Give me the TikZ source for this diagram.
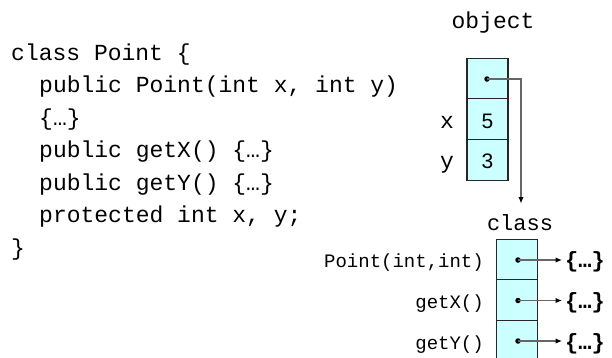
\documentclass[tikz,border=0pt]{standalone}
\usepackage{fontspec}
\setmonofont{Liberation Mono}
\newfontfamily\digitfont{Liberation Sans}
\usetikzlibrary{arrows.meta}
\definecolor{cellfill}{HTML}{CCFFFF}
\definecolor{linegray}{HTML}{666666}
\tikzset{
  codeline/.style={anchor=base west, inner sep=0pt, font=\fontsize{23}{23}\selectfont\ttfamily},
  biglabel/.style={anchor=base, inner sep=0pt, font=\fontsize{23}{23}\selectfont\ttfamily},
  smalllabel/.style={anchor=base east, inner sep=0pt, font=\fontsize{19}{19}\selectfont\ttfamily},
  bodylabel/.style={anchor=base west, inner sep=0pt, font=\fontsize{22}{22}\selectfont\ttfamily\bfseries},
  digit/.style={anchor=base, inner sep=0pt, font=\fontsize{21}{21}\selectfont\digitfont},
  cell/.style={draw=black!85, line width=1.1pt, fill=cellfill, minimum width=41pt, minimum height=40.7pt, inner sep=0pt},
  dotmark/.style={circle, fill=black, inner sep=0pt, minimum size=5.5pt},
  connector/.style={draw=linegray, line width=1.2pt, -{Latex[length=6.5pt,width=5.5pt,color=black]}}
}
\begin{document}
\begin{tikzpicture}[x=1pt,y=-1pt]
\useasboundingbox (0,0) rectangle (612,357);

% code
\node[codeline] (l1) at (11,60) {class Point \{};
\node[codeline] (l2) at (39,92.5) {public Point(int x, int y)};
\node[codeline] (l3) at (39,125) {\{…\}};
\node[codeline] (l4) at (39,157.5) {public getX() \{…\}};
\node[codeline] (l5) at (39,190) {public getY() \{…\}};
\node[codeline] (l6) at (39,222.5) {protected int x, y;};
\node[codeline] (l7) at (11,255) {\}};

% object
\node[biglabel] (objlabel) at (493,28) {object};
\node[cell] (o1) at (487.5,78.5) {};
\node[cell] (o2) at (487.5,119.2) {};
\node[cell] (o3) at (487.5,159.9) {};
\node[digit] (v5) at (487.5,128) {5};
\node[digit] (v3) at (487.5,168) {3};
\node[biglabel] (xl) at (447,128) {x};
\node[biglabel] (yl) at (447,168) {y};
\node[dotmark] (od) at (487,79) {};

% class
\node[anchor=base, inner sep=0pt, font=\fontsize{22}{22}\selectfont\ttfamily] (clslabel) at (520,230) {class};
\coordinate (tip) at (521,203.5);
\draw[connector] (od.center) -| (tip);

\node[cell] (c1) at (517,259.5) {};
\node[cell] (c2) at (517,300.2) {};
\node[cell] (c3) at (517,340.9) {};
\node[smalllabel] (m1) at (484,267) {Point(int,int)};
\node[smalllabel] (m2) at (484,308) {getX()};
\node[smalllabel] (m3) at (484,349) {getY()};
\node[dotmark] (d1) at (518,260) {};
\node[dotmark] (d2) at (518,300.5) {};
\node[dotmark] (d3) at (518,341) {};
\node[bodylabel] (b1) at (565,267.5) {\{…\}};
\node[bodylabel] (b2) at (565,308.5) {\{…\}};
\node[bodylabel] (b3) at (565,349.5) {\{…\}};
\draw[connector] (d1.center) -- ([xshift=-3pt]b1.west |- d1.center);
\draw[connector] (d2.center) -- ([xshift=-3pt]b2.west |- d2.center);
\draw[connector] (d3.center) -- ([xshift=-3pt]b3.west |- d3.center);
\end{tikzpicture}
\end{document}
